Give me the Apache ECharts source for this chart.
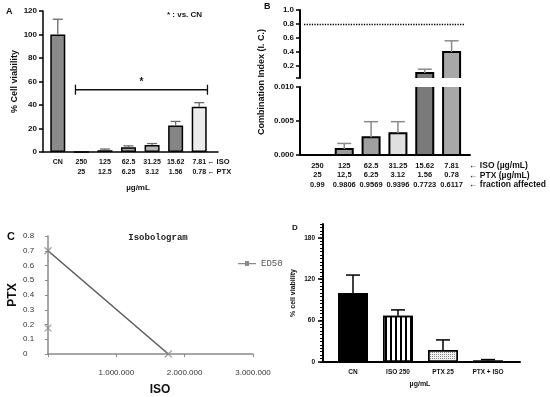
<!DOCTYPE html>
<html><head><meta charset="utf-8">
<script src="https://cdn.jsdelivr.net/npm/echarts@6/dist/echarts.min.js"></script>
<style>html,body{margin:0;padding:0;background:#fff}#c{width:550px;height:397px}</style>
</head><body><div id="c"></div>
<script>
// ---------- Panel A ----------
const aIso = ['CN', '250', '125', '62.5', '31.25', '15.62', '7.81'];
const aPtx = ['', '25', '12.5', '6.25', '3.12', '1.56', '0.78'];
const aViability = [100, 0, 1.5, 4, 6, 22.5, 38.5];
const aError = [13, 0, 1, 1.2, 1.2, 3.5, 3.5];
const aColors = ['#8a8a8a', '#8a8a8a', '#9c9c9c', '#a2a2a2', '#b4b4b4', '#858585', '#ececec'];
const aSignificance = [1, 6, 53]; // from category index, to category index, level (%)

// ---------- Panel B ----------
const bIso = ['250', '125', '62.5', '31.25', '15.62', '7.81'];
const bPtx = ['25', '12,5', '6.25', '3.12', '1.56', '0.78'];
const bFa = ['0.99', '0.9806', '0.9569', '0.9396', '0.7723', '0.6117'];
const bCI = [0, 0.0009, 0.0026, 0.0032, 0.1, 0.4];
const bErr = [0, 0.0008, 0.0023, 0.0017, 0.055, 0.16];
const bColors = ['#999999', '#9c9c9c', '#a0a0a0', '#e0e0e0', '#7a7a7a', '#a8a8a8'];
const bUpperTicks = [0.2, 0.4, 0.6, 0.8, 1.0];
const bThreshold = 0.8;

// ---------- Panel C ----------
const cED50 = [[0, 0.7], [1760000, 0]];
const cPoints = [[0, 0.7], [0, 0.175], [1760000, 0]];

// ---------- Panel D ----------
const dCategories = ['CN', 'ISO 250', 'PTX 25', 'PTX + ISO'];
const dViability = [100, 67, 17.5, 2.5];
const dError = [26, 8.5, 14.5, 1];
const dTicks = [0, 60, 120, 180];

const FONT = '"Liberation Sans", Arial, sans-serif';

function errRender(color, capW, lw) {
  return function (params, api) {
    const i = api.value(0), v = api.value(1), e = api.value(2);
    if (!e) return null;
    const p0 = api.coord([i, v]);
    const p1 = api.coord([i, v + e]);
    return {
      type: 'group', children: [
        {type: 'line', shape: {x1: p0[0], y1: p0[1], x2: p1[0], y2: p1[1]}, style: {stroke: color, lineWidth: lw}},
        {type: 'line', shape: {x1: p1[0] - capW / 2, y1: p1[1], x2: p1[0] + capW / 2, y2: p1[1]}, style: {stroke: color, lineWidth: lw}}
      ]
    };
  };
}

// bars drawn through the axes, clipped by the grid so that broken-axis segments lose their cut edges
function barRender(width, colors) {
  return function (params, api) {
    const i = api.value(0), v = api.value(1);
    if (!v) return null;
    const p0 = api.coord([i, 0]);
    const p1 = api.coord([i, v]);
    return {type: 'rect', shape: {x: p0[0] - width / 2, y: p1[1], width: width, height: p0[1] - p1[1]},
      style: {fill: colors[i], stroke: '#000', lineWidth: 2}};
  };
}

function frameAxes(gi, color, width) {
  return {
    x: {type: 'value', gridIndex: gi, min: 0, max: 1, axisLine: {show: true, onZero: false, lineStyle: {color: color, width: width}},
        axisTick: {show: false}, axisLabel: {show: false}, splitLine: {show: false}},
    y: {type: 'value', gridIndex: gi, min: 0, max: 1, show: false}
  };
}
const fA = frameAxes(1, '#000', 1.5), fB = frameAxes(4, '#000', 2), fD = frameAxes(7, '#000', 2);

const txt = (x, y, text, font, align) => ({type: 'text', x: x, y: y, silent: true,
  style: {text: text, font: font, fill: '#111', align: align || 'left', verticalAlign: 'middle'}});

const option = {
  animation: false,
  backgroundColor: '#fff',
  grid: [
    {left: 46, top: 11, width: 165, height: 141},   // 0 A
    {left: 43, top: 11, width: 175, height: 141},   // 1 A frame
    {left: 304, top: 10, width: 161, height: 68},   // 2 B upper
    {left: 304, top: 87, width: 161, height: 68},   // 3 B lower
    {left: 300, top: 87, width: 170, height: 68},   // 4 B frame
    {left: 48, top: 236, width: 205, height: 118},  // 5 C
    {left: 330.5, top: 224, width: 180, height: 138}, // 6 D
    {left: 323, top: 224, width: 197, height: 138}  // 7 D frame
  ],
  legend: {
    data: [{name: 'ED50', icon: 'path://M0,4 L7,4 L7,2 L11,2 L11,4 L18,4 L18,5.2 L11,5.2 L11,7 L7,7 L7,5.2 L0,5.2 Z'}],
    left: 238, top: 259, itemWidth: 18, itemHeight: 7, itemGap: 4, padding: 0,
    textStyle: {fontFamily: '"Liberation Mono", monospace', fontSize: 9, color: '#555'}
  },
  xAxis: [
    {type: 'category', gridIndex: 0, data: aIso.map((s, i) => aPtx[i] ? s + '\n' + aPtx[i] : s),
     axisLine: {show: false}, axisTick: {show: false},
     axisLabel: {fontFamily: FONT, fontWeight: 'bold', fontSize: 7, color: '#111', lineHeight: 10, margin: 5, interval: 0}},
    fA.x,
    {type: 'category', gridIndex: 2, data: bIso, show: false},
    {type: 'category', gridIndex: 3, data: bIso.map((s, i) => s + '\n' + bPtx[i] + '\n' + bFa[i]),
     axisLine: {show: false}, axisTick: {show: false},
     axisLabel: {fontFamily: FONT, fontWeight: 'bold', fontSize: 7.5, color: '#111', lineHeight: 9.5, margin: 6, interval: 0}},
    fB.x,
    {type: 'value', gridIndex: 5, min: 0, max: 3000000, interval: 1000000,
     axisLine: {onZero: false, lineStyle: {color: '#8a8a8a', width: 1.5}},
     axisTick: {length: 3, lineStyle: {color: '#8a8a8a'}}, splitLine: {show: false},
     axisLabel: {fontFamily: FONT, fontSize: 8, color: '#333', margin: 15,
       formatter: v => v === 0 ? '' : String(v).replace(/\B(?=(\d{3})+(?!\d))/g, '.')}},
    {type: 'category', gridIndex: 6, data: dCategories,
     axisLine: {show: false}, axisTick: {show: false},
     axisLabel: {fontFamily: FONT, fontWeight: 'bold', fontSize: 6.5, color: '#111', margin: 7, interval: 0}},
    fD.x
  ],
  yAxis: [
    {type: 'value', gridIndex: 0, min: 0, max: 120, interval: 20, offset: 3,
     name: '% Cell viability', nameLocation: 'middle', nameGap: 24,
     nameTextStyle: {fontFamily: FONT, fontWeight: 'bold', fontSize: 9, color: '#111'},
     axisLine: {show: true, lineStyle: {color: '#000', width: 1.5}},
     axisTick: {show: true, length: 4, lineStyle: {color: '#000', width: 1.5}},
     splitLine: {show: false},
     axisLabel: {fontFamily: FONT, fontWeight: 'bold', fontSize: 8, color: '#111', margin: 6}},
    fA.y,
    {type: 'value', gridIndex: 2, min: 0.029, max: 1.0, offset: 4,
     axisLine: {show: true, lineStyle: {color: '#000', width: 2}},
     axisTick: {show: true, length: 4, lineStyle: {color: '#000', width: 1.5}, customValues: [0.029].concat(bUpperTicks)},
     splitLine: {show: false},
     axisLabel: {fontFamily: FONT, fontWeight: 'bold', fontSize: 8, color: '#111', margin: 6,
       customValues: bUpperTicks, formatter: v => v.toFixed(1)}},
    {type: 'value', gridIndex: 3, min: 0, max: 0.01, interval: 0.005, offset: 4,
     axisLine: {show: true, lineStyle: {color: '#000', width: 2}},
     axisTick: {show: true, length: 4, lineStyle: {color: '#000', width: 1.5}},
     splitLine: {show: false},
     axisLabel: {fontFamily: FONT, fontWeight: 'bold', fontSize: 8, color: '#111', margin: 6, formatter: v => v.toFixed(3)}},
    fB.y,
    {type: 'value', gridIndex: 5, min: 0, max: 0.8, interval: 0.1,
     name: 'PTX', nameLocation: 'middle', nameGap: 28,
     nameTextStyle: {fontFamily: FONT, fontWeight: 'bold', fontSize: 12, color: '#111'},
     axisLine: {show: true, onZero: false, lineStyle: {color: '#8a8a8a', width: 1.5}},
     axisTick: {show: true, length: 3, lineStyle: {color: '#8a8a8a'}}, splitLine: {show: false},
     axisLabel: {fontFamily: FONT, fontSize: 8, color: '#333', margin: 25, align: 'left',
       formatter: v => v === 0 ? '0' : v.toFixed(1)}},
    {type: 'value', gridIndex: 6, position: 'left', min: 0, max: 200, interval: 5, offset: 7.5,
     name: '% cell viability', nameLocation: 'middle', nameGap: 26,
     nameTextStyle: {fontFamily: FONT, fontWeight: 'bold', fontSize: 7, color: '#111'},
     axisLine: {show: true, lineStyle: {color: '#000', width: 2}},
     axisTick: {show: true, length: 3, lineStyle: {color: '#000', width: 1}},
     splitLine: {show: false},
     axisLabel: {fontFamily: FONT, fontWeight: 'bold', fontSize: 6.5, color: '#111', margin: 8, customValues: dTicks}},
    {type: 'value', gridIndex: 6, position: 'left', min: 0, max: 200, offset: 7.5,
     axisLine: {show: false}, axisLabel: {show: false}, splitLine: {show: false},
     axisTick: {show: true, length: 5, lineStyle: {color: '#000', width: 1.5}, customValues: dTicks}},
    fD.y
  ],
  series: [
    // A
    {type: 'bar', xAxisIndex: 0, yAxisIndex: 0, barWidth: 15,
     data: aViability.map((v, i) => ({value: v, itemStyle: {color: aColors[i]}})),
     itemStyle: {borderColor: '#000', borderWidth: 1.5}},
    {type: 'custom', xAxisIndex: 0, yAxisIndex: 0, renderItem: errRender('#6a6a6a', 10, 1.3),
     data: aViability.map((v, i) => [i, v, aError[i]]), encode: {x: 0, y: 1}, z: 3},
    {type: 'custom', xAxisIndex: 0, yAxisIndex: 0, z: 3, data: [aSignificance], encode: {x: 0, y: 2},
     renderItem: function (params, api) {
       const bw = api.size([1, 0])[0];
       const p0 = api.coord([api.value(0), api.value(2)]);
       const p1 = api.coord([api.value(1), api.value(2)]);
       const x0 = p0[0] - bw * 0.25, x1 = p1[0] + bw * 0.35, y = p0[1];
       const st = {stroke: '#111', lineWidth: 1.3};
       return {type: 'group', children: [
         {type: 'line', shape: {x1: x0, y1: y, x2: x1, y2: y}, style: st},
         {type: 'line', shape: {x1: x0, y1: y - 5, x2: x0, y2: y + 5}, style: st},
         {type: 'line', shape: {x1: x1, y1: y - 5, x2: x1, y2: y + 5}, style: st},
         {type: 'text', x: (x0 + x1) / 2, y: y - 2, style: {text: '*', font: 'bold 10px ' + FONT, fill: '#111', align: 'center', verticalAlign: 'bottom'}}
       ]};
     }},
    // B upper segment
    {type: 'custom', xAxisIndex: 2, yAxisIndex: 2, clip: true, renderItem: barRender(17, bColors),
     data: bCI.map((v, i) => [i, v]), encode: {x: 0, y: 1},
     markLine: {silent: true, symbol: 'none', label: {show: false},
       lineStyle: {type: 'dotted', color: '#000', width: 1.3}, data: [{yAxis: bThreshold}]}},
    {type: 'custom', xAxisIndex: 2, yAxisIndex: 2, clip: true, z: 3, renderItem: errRender('#8a8a8a', 14, 1.5),
     data: bCI.map((v, i) => [i, v, bErr[i]]), encode: {x: 0, y: 1}},
    // B lower segment
    {type: 'custom', xAxisIndex: 3, yAxisIndex: 3, clip: true, renderItem: barRender(17, bColors),
     data: bCI.map((v, i) => [i, v]), encode: {x: 0, y: 1}},
    {type: 'custom', xAxisIndex: 3, yAxisIndex: 3, clip: true, z: 3, renderItem: errRender('#8a8a8a', 14, 1.5),
     data: bCI.map((v, i) => [i, v, bErr[i]]), encode: {x: 0, y: 1}},
    // C
    {type: 'line', name: 'ED50', xAxisIndex: 5, yAxisIndex: 5, data: cED50, showSymbol: false,
     lineStyle: {color: '#595959', width: 1.5}, itemStyle: {color: '#8a8a8a'}},
    {type: 'scatter', name: 'points', xAxisIndex: 5, yAxisIndex: 5, data: cPoints, z: 4,
     symbol: 'path://M0,0 L10,10 M10,0 L0,10', symbolSize: 7,
     itemStyle: {color: 'transparent', borderColor: '#8a8a8a', borderWidth: 1.2}},
    // D
    {type: 'bar', xAxisIndex: 6, yAxisIndex: 6, barWidth: 30,
     itemStyle: {borderColor: '#000', borderWidth: 1.5},
     data: dViability.map((v, i) => {
       const styles = [
         {color: '#000'},
         {color: '#fff', decal: {symbol: 'rect', symbolSize: 1, color: '#000', dashArrayX: [1.3, 2.2], dashArrayY: [10, 0], rotation: 0}},
         {color: '#f2f2f2', decal: {symbol: 'rect', symbolSize: 1, color: '#8a8a8a', dashArrayX: [1, 1], dashArrayY: [1, 1], rotation: 0}},
         {color: '#555'}
       ];
       return {value: v, itemStyle: styles[i]};
     })},
    {type: 'custom', xAxisIndex: 6, yAxisIndex: 6, z: 3, renderItem: errRender('#000', 14, 1.5),
     data: dViability.map((v, i) => [i, v, dError[i]]), encode: {x: 0, y: 1}}
  ],
  graphic: [
    txt(6, 12, 'A', 'bold 9px ' + FONT),
    txt(167, 15, '* : vs. CN', 'bold 8px ' + FONT),
    txt(207, 162, '\u2190 ISO', 'bold 7.5px ' + FONT),
    txt(207, 172, '\u2190 PTX', 'bold 7.5px ' + FONT),
    txt(138, 188, '\u00b5g/mL', 'bold 8px ' + FONT, 'center'),
    txt(264, 7, 'B', 'bold 9px ' + FONT),
    txt(469, 166, '\u2190 ISO (\u00b5g/mL)', 'bold 8.5px ' + FONT),
    txt(469, 176, '\u2190 PTX (\u00b5g/mL)', 'bold 8.5px ' + FONT),
    txt(469, 185, '\u2190 fraction affected', 'bold 8.5px ' + FONT),
    {type: 'text', x: 262, y: 82, rotation: Math.PI / 2, silent: true,
     style: {text: 'Combination Index (I. C.)', font: 'bold 9px ' + FONT, fill: '#111', align: 'center', verticalAlign: 'middle'}},
    txt(7, 237, 'C', 'bold 11px ' + FONT),
    {type: 'text', x: 158, y: 238, silent: true,
     style: {text: 'Isobologram', font: 'bold 9px "Liberation Mono", monospace', fill: '#222', align: 'center', verticalAlign: 'middle'}},
    txt(160, 390, 'ISO', 'bold 12px ' + FONT, 'center'),
    txt(292, 228, 'D', 'bold 8px ' + FONT),
    txt(420, 384, '\u00b5g/mL', 'bold 7px ' + FONT, 'center')
  ]
};
const chart = echarts.init(document.getElementById('c'), null, {renderer: 'canvas'});
chart.setOption(option);
</script>
</body></html>
